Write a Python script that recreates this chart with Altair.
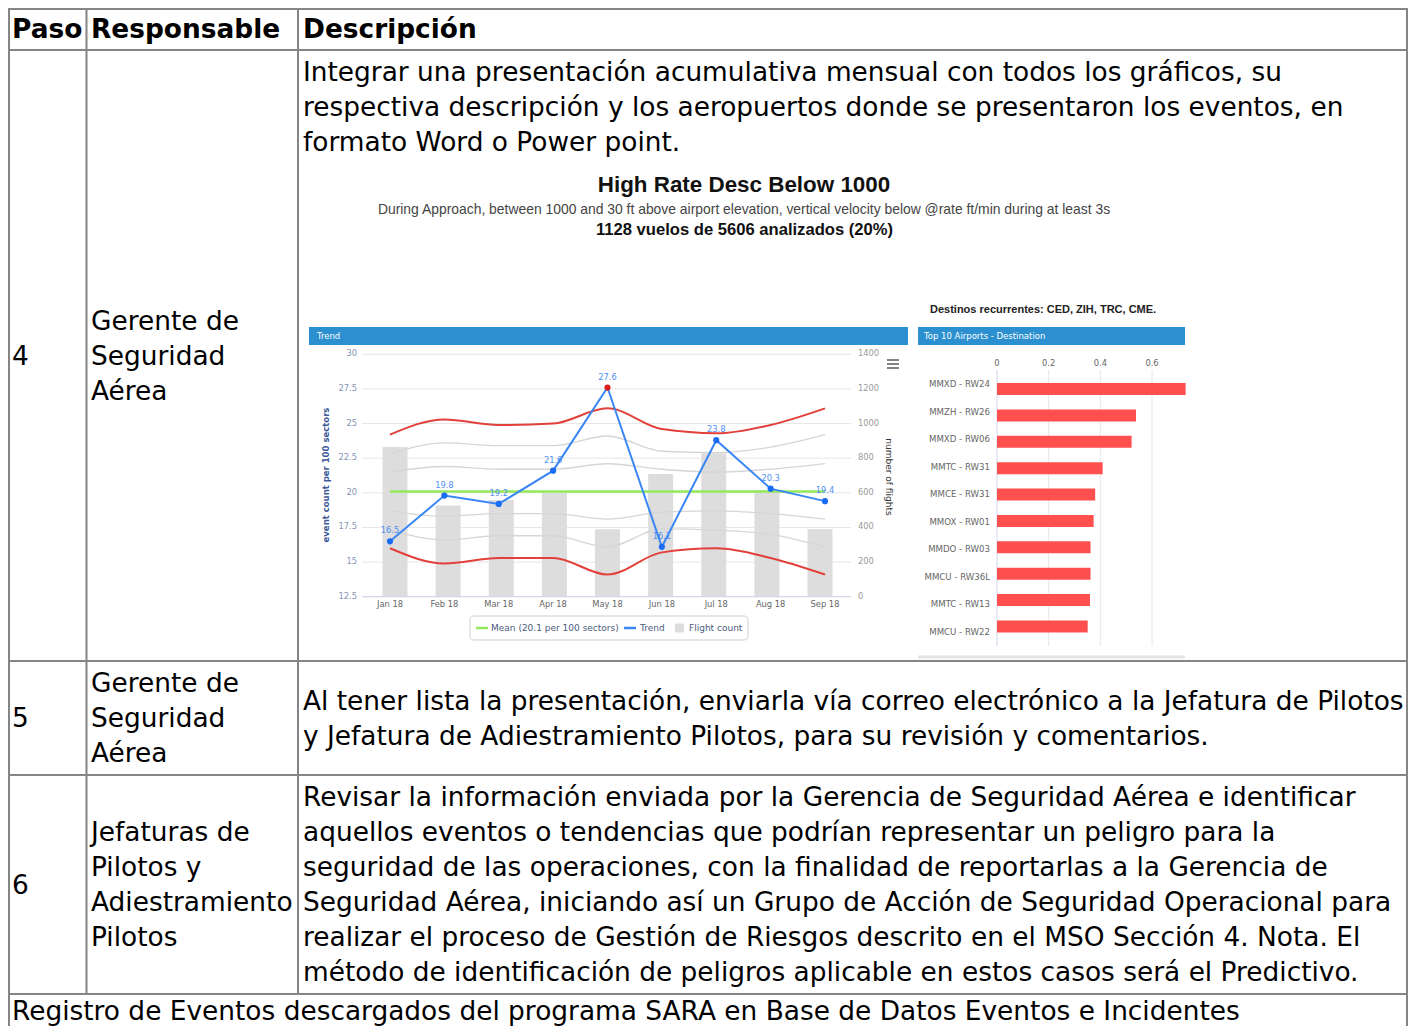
import altair as alt
import pandas as pd

# ---------------- table content ----------------
table_header = ["Paso", "Responsable", "Descripción"]
step_numbers = ["4", "5", "6"]
step_owners = [
    ["Gerente de", "Seguridad", "Aérea"],
    ["Gerente de", "Seguridad", "Aérea"],
    ["Jefaturas de", "Pilotos y", "Adiestramiento", "Pilotos"],
]
step_descriptions = [
    ["Integrar una presentación acumulativa mensual con todos los gráficos, su",
     "respectiva descripción y los aeropuertos donde se presentaron los eventos, en",
     "formato Word o Power point."],
    ["Al tener lista la presentación, enviarla vía correo electrónico a la Jefatura de Pilotos",
     "y Jefatura de Adiestramiento Pilotos, para su revisión y comentarios."],
    ["Revisar la información enviada por la Gerencia de Seguridad Aérea e identificar",
     "aquellos eventos o tendencias que podrían representar un peligro para la",
     "seguridad de las operaciones, con la finalidad de reportarlas a la Gerencia de",
     "Seguridad Aérea, iniciando así un Grupo de Acción de Seguridad Operacional para",
     "realizar el proceso de Gestión de Riesgos descrito en el MSO Sección 4. Nota. El",
     "método de identificación de peligros aplicable en estos casos será el Predictivo."],
]
table_footer = "Registro de Eventos descargados del programa SARA en Base de Datos Eventos e Incidentes"

# ---------------- embedded chart content ----------------
chart_title = "High Rate Desc Below 1000"
chart_subtitle = ("During Approach, between 1000 and 30 ft above airport elevation, "
                  "vertical velocity below @rate ft/min during at least 3s")
flights_flagged = 1128
flights_analyzed = 5606
recurrent_note = "Destinos recurrentes: CED, ZIH, TRC, CME."

months = ["Jan 18", "Feb 18", "Mar 18", "Apr 18", "May 18", "Jun 18", "Jul 18", "Aug 18", "Sep 18"]
trend_rate = [16.5, 19.8, 19.2, 21.6, 27.6, 16.1, 23.8, 20.3, 19.4]
flight_count = [865, 527, 558, 600, 389, 709, 829, 615, 391]
mean_rate = 20.1
upper_limit = [24.2, 25.3, 24.9, 25.0, 26.1, 24.6, 24.3, 24.9, 26.1]
lower_limit = [16.0, 14.9, 15.3, 15.3, 14.1, 15.7, 16.0, 15.3, 14.1]
band_a = [22.8, 23.6, 23.4, 23.4, 24.1, 23.0, 22.9, 23.3, 24.2]
band_b = [21.5, 21.9, 21.7, 21.7, 22.1, 21.7, 21.5, 21.7, 22.1]
band_c = [18.7, 18.3, 18.5, 18.5, 18.1, 18.6, 18.7, 18.5, 18.1]
band_d = [17.3, 16.6, 16.9, 16.9, 16.1, 17.4, 17.3, 17.0, 16.1]
rate_ticks = [12.5, 15, 17.5, 20, 22.5, 25, 27.5, 30]
flight_ticks = [0, 200, 400, 600, 800, 1000, 1200, 1400]

airports = ["MMXD - RW24", "MMZH - RW26", "MMXD - RW06", "MMTC - RW31", "MMCE - RW31",
            "MMOX - RW01", "MMDO - RW03", "MMCU - RW36L", "MMTC - RW13", "MMCU - RW22"]
airport_share = [0.73, 0.538, 0.521, 0.409, 0.380, 0.374, 0.362, 0.362, 0.360, 0.351]
share_ticks = [0, 0.2, 0.4, 0.6]

# ---------------- layout helpers ----------------
OFF = 8                      # page margin
def px(v):
    return v - OFF

W, H = 1400, 1018
BODY_FONT = "DejaVu Sans"
BODY_SIZE = 26.4
CH_FONT = "DejaVu Sans"
ARIAL = "Liberation Sans"
TICK = 8.3


def text_df_layer(df, size, weight="normal", font=BODY_FONT, color="#000000",
                  align="left", baseline="alphabetic"):
    return alt.Chart(df).mark_text(
        align=align, baseline=baseline, font=font, fontSize=size,
        fontWeight=weight, color=color
    ).encode(
        x=alt.X("x:Q", scale=None, axis=None),
        y=alt.Y("y:Q", scale=None, axis=None),
        text="t:N",
    )


def label(text, x, y, size, color="#333333", font=CH_FONT, weight="normal",
          align="center", baseline="middle", angle=0):
    return alt.Chart(pd.DataFrame({"t": [text]})).mark_text(
        align=align, baseline=baseline, font=font, fontSize=size,
        fontWeight=weight, color=color, angle=angle
    ).encode(x=alt.value(px(x)), y=alt.value(px(y)), text="t:N")


def box(x1, y1, x2, y2, fill, stroke=None, radius=0, sw=1):
    kw = dict(color=fill, cornerRadius=radius)
    if stroke:
        kw.update(stroke=stroke, strokeWidth=sw)
    return alt.Chart(pd.DataFrame({"a": [0]})).mark_rect(**kw).encode(
        x=alt.value(px(x1)), x2=alt.value(px(x2)),
        y=alt.value(px(y1)), y2=alt.value(px(y2)))


def hline(x1, x2, y, color, sw=1):
    return alt.Chart(pd.DataFrame({"a": [0]})).mark_rule(color=color, strokeWidth=sw).encode(
        x=alt.value(px(x1)), x2=alt.value(px(x2)), y=alt.value(px(y)))


layers = []

# ---------------- table grid ----------------
col_x = [9, 86.5, 298, 1407]
row_y = [9, 50, 661, 775, 994]
grid = []
for y in row_y:
    grid.append(dict(x=px(col_x[0]) - 1, x2=px(col_x[-1]) + 1, y=px(y), y2=px(y)))
for x in [col_x[0], col_x[-1]]:
    grid.append(dict(x=px(x), x2=px(x), y=px(row_y[0]) - 1, y2=px(1040)))
for x in col_x[1:3]:
    grid.append(dict(x=px(x), x2=px(x), y=px(row_y[0]), y2=px(row_y[-1])))
layers.append(alt.Chart(pd.DataFrame(grid)).mark_rule(color="#858585", strokeWidth=2).encode(
    x=alt.X("x:Q", scale=None, axis=None), x2="x2:Q",
    y=alt.Y("y:Q", scale=None, axis=None), y2="y2:Q"))

# ---------------- table text ----------------
col_text_x = [12, 91, 303]
LH = 35
BASE = 9
head_rows = [dict(t=h, x=px(col_text_x[j]), y=px(37.5)) for j, h in enumerate(table_header)]
layers.append(text_df_layer(pd.DataFrame(head_rows), BODY_SIZE, weight="bold"))

body = []
for r in range(3):
    top, bot = row_y[r + 1], row_y[r + 2]
    mid = (top + bot) / 2
    body.append(dict(t=step_numbers[r], x=px(col_text_x[0]), y=px(mid + BASE)))
    n = len(step_owners[r])
    for k, line in enumerate(step_owners[r]):
        c = mid + (k - (n - 1) / 2) * LH
        body.append(dict(t=line, x=px(col_text_x[1]), y=px(c + BASE)))
    n = len(step_descriptions[r])
    for k, line in enumerate(step_descriptions[r]):
        if r == 0:
            c = top + 22 + k * LH
        else:
            c = mid + (k - (n - 1) / 2) * LH
        body.append(dict(t=line, x=px(col_text_x[2]), y=px(c + BASE)))
body.append(dict(t=table_footer, x=px(col_text_x[0]), y=px(1019.5)))
layers.append(text_df_layer(pd.DataFrame(body), BODY_SIZE))

# ---------------- embedded chart: headings ----------------
layers.append(label(chart_title, 744, 185, 22.4, color="#111111", font=ARIAL, weight="bold"))
layers.append(label(chart_subtitle, 744, 210, 13.9, color="#444444", font=ARIAL))
pct = round(100 * flights_flagged / flights_analyzed)
layers.append(label(f"{flights_flagged} vuelos de {flights_analyzed} analizados ({pct}%)",
                    744.5, 229.5, 16.6, color="#111111", font=ARIAL, weight="bold"))
layers.append(label(recurrent_note, 930, 310, 11, color="#222222", font=ARIAL,
                    weight="bold", align="left"))

# panel headers
layers.append(box(309, 327, 908, 345, "#2b8fd0"))
layers.append(label("Trend", 317, 336, 8.5, color="#ffffff", align="left"))
layers.append(box(918, 327, 1185, 345, "#2b8fd0"))
layers.append(label("Top 10 Airports - Destination", 924, 336, 8.5, color="#ffffff", align="left"))
layers.append(hline(918, 1185, 657, "#e4e4e4", 3))

# ---------------- trend chart ----------------
n_m = len(months)
tdf = pd.DataFrame({"i": list(range(n_m)), "month": months, "rate": trend_rate,
                    "flights": flight_count})
tdf["label"] = [f"{v:.1f}" for v in trend_rate]
tdf["peak"] = tdf["rate"] == max(trend_rate)

sx = alt.Scale(domain=[0, n_m - 1], range=[px(390), px(825)], nice=False, zero=False)
sy_rate = alt.Scale(domain=[rate_ticks[0], rate_ticks[-1]], range=[px(596.7), px(354.3)],
                    nice=False, zero=False)
sy_cnt = alt.Scale(domain=[flight_ticks[0], flight_ticks[-1]], range=[px(596.7), px(354.3)],
                   nice=False, zero=False)

rticks = pd.DataFrame({"v": rate_ticks, "t": [f"{v:g}" for v in rate_ticks]})
fticks = pd.DataFrame({"v": flight_ticks, "t": [str(v) for v in flight_ticks]})

# gridlines
layers.append(alt.Chart(rticks).mark_rule(color="#e6e6e6", strokeWidth=1).encode(
    y=alt.Y("v:Q", scale=sy_rate, axis=None), x=alt.value(px(362)), x2=alt.value(px(851))))
# bars
layers.append(alt.Chart(tdf).mark_bar(size=25, color="#dddddd").encode(
    x=alt.X("i:Q", scale=sx, axis=None),
    y=alt.Y("flights:Q", scale=sy_cnt, axis=None), y2=alt.datum(0)))

# control bands
bands = []
for name, vals in [("a", band_a), ("b", band_b), ("c", band_c), ("d", band_d)]:
    for i, v in enumerate(vals):
        bands.append(dict(s=name, i=i, v=v))
layers.append(alt.Chart(pd.DataFrame(bands)).mark_line(
    color="#d6d6d6", strokeWidth=1.3, interpolate="monotone").encode(
    x=alt.X("i:Q", scale=sx, axis=None), y=alt.Y("v:Q", scale=sy_rate, axis=None),
    detail="s:N"))
limits = []
for name, vals in [("u", upper_limit), ("l", lower_limit)]:
    for i, v in enumerate(vals):
        limits.append(dict(s=name, i=i, v=v))
layers.append(alt.Chart(pd.DataFrame(limits)).mark_line(
    color="#e2403a", strokeWidth=2, interpolate="monotone").encode(
    x=alt.X("i:Q", scale=sx, axis=None), y=alt.Y("v:Q", scale=sy_rate, axis=None),
    detail="s:N"))

# x-axis baseline
layers.append(hline(362, 851, 596.7, "#ccd6eb", 1))

# mean line
layers.append(alt.Chart(pd.DataFrame({"m": [mean_rate], "a": [0], "b": [n_m - 1]}))
              .mark_rule(color="#94e85c", strokeWidth=2.5).encode(
    x=alt.X("a:Q", scale=sx, axis=None), x2="b:Q",
    y=alt.Y("m:Q", scale=sy_rate, axis=None)))

# trend line, points, labels
layers.append(alt.Chart(tdf).mark_line(color="#3a86f5", strokeWidth=2).encode(
    x=alt.X("i:Q", scale=sx, axis=None), y=alt.Y("rate:Q", scale=sy_rate, axis=None)))
layers.append(alt.Chart(tdf).mark_circle(size=38, opacity=1).encode(
    x=alt.X("i:Q", scale=sx, axis=None), y=alt.Y("rate:Q", scale=sy_rate, axis=None),
    color=alt.condition("datum.peak", alt.value("#d81e1e"), alt.value("#1a6cf5"))))
layers.append(alt.Chart(tdf).mark_text(dy=-10, fontSize=TICK, font=CH_FONT, color="#4f8ff2").encode(
    x=alt.X("i:Q", scale=sx, axis=None), y=alt.Y("rate:Q", scale=sy_rate, axis=None),
    text="label:N"))

# tick labels
layers.append(alt.Chart(rticks).mark_text(align="right", baseline="middle", fontSize=TICK,
                                          font=CH_FONT, color="#8594b5").encode(
    y=alt.Y("v:Q", scale=sy_rate, axis=None), x=alt.value(px(357)), text="t:N"))
layers.append(alt.Chart(fticks).mark_text(align="left", baseline="middle", fontSize=TICK,
                                          font=CH_FONT, color="#9a9a9a").encode(
    y=alt.Y("v:Q", scale=sy_cnt, axis=None), x=alt.value(px(858)), text="t:N"))
layers.append(alt.Chart(tdf).mark_text(baseline="middle", fontSize=TICK,
                                       font=CH_FONT, color="#666666").encode(
    x=alt.X("i:Q", scale=sx, axis=None), y=alt.value(px(605)), text="month:N"))

# axis titles
layers.append(label("event count per 100 sectors", 326, 475, 8.5, color="#3d5a98",
                    weight="bold", angle=270))
layers.append(label("number of flights", 889, 477, 9, color="#333333", angle=90))

# menu icon
for yy in [360, 364, 368]:
    layers.append(hline(887, 899, yy, "#666666", 1.6))

# legend
layers.append(box(470, 616, 748, 640, "#ffffff", stroke="#cfcfcf", radius=4, sw=1))
layers.append(hline(476, 488, 628, "#94e85c", 2.5))
layers.append(label(f"Mean ({mean_rate} per 100 sectors)", 491, 628, 9,
                    color="#4b5b7c", align="left"))
layers.append(hline(624, 636, 628, "#3a86f5", 2.5))
layers.append(label("Trend", 640, 628, 9, color="#4b5b7c", align="left"))
layers.append(box(675, 623.5, 684, 632.5, "#dddddd"))
layers.append(label("Flight count", 689, 628, 9, color="#4b5b7c", align="left"))

# ---------------- airports bar chart ----------------
adf = pd.DataFrame({"k": list(range(len(airports))), "airport": airports, "share": airport_share})
bx = alt.Scale(domain=[0, 0.8], range=[px(997), px(997 + 4 * 51.67)], nice=False, zero=False)
by = alt.Scale(domain=[0, len(airports) - 1], range=[px(384), px(631.5)], nice=False, zero=False)
sticks = pd.DataFrame({"v": share_ticks, "t": [f"{v:g}" for v in share_ticks]})

layers.append(alt.Chart(sticks[sticks.v > 0]).mark_rule(color="#e6e6e6", strokeWidth=1).encode(
    x=alt.X("v:Q", scale=bx, axis=None), y=alt.value(px(370)), y2=alt.value(px(646))))
layers.append(alt.Chart(sticks[sticks.v == 0]).mark_rule(color="#ccd6eb", strokeWidth=1).encode(
    x=alt.X("v:Q", scale=bx, axis=None), y=alt.value(px(370)), y2=alt.value(px(646))))
layers.append(alt.Chart(sticks).mark_text(baseline="middle", fontSize=TICK, font=CH_FONT,
                                          color="#666666").encode(
    x=alt.X("v:Q", scale=bx, axis=None), y=alt.value(px(364)), text="t:N"))
layers.append(alt.Chart(adf).mark_bar(size=12, color="#ff4f4f", orient="horizontal").encode(
    x=alt.X("share:Q", scale=bx, axis=None), x2=alt.datum(0),
    y=alt.Y("k:Q", scale=by, axis=None)))
layers.append(alt.Chart(adf).mark_text(align="right", baseline="middle", fontSize=8.6,
                                       font=CH_FONT, color="#666666").encode(
    x=alt.value(px(990)), y=alt.Y("k:Q", scale=by, axis=None), text="airport:N"))

chart = alt.layer(*layers).resolve_scale(
    x="independent", y="independent"
).properties(
    width=W, height=H, padding=0, autosize=alt.AutoSizeParams(type="none"),
    background="#ffffff"
).configure_view(strokeWidth=0)

chart.save("out.html", embed_options={"renderer": "svg", "actions": False})
